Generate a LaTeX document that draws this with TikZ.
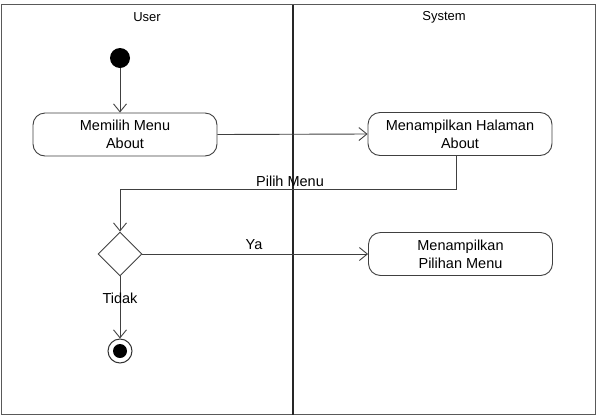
\documentclass[tikz,border=0pt]{standalone}
\usepackage{fontspec}
\setmainfont{Liberation Sans}
\usetikzlibrary{arrows.meta,shapes.geometric}
\begin{document}
\begin{tikzpicture}[x=1pt,y=-1pt,
  act/.style={draw=black!75, fill=white, rounded corners=12pt, minimum width=184pt, minimum height=43pt, align=center, font=\fontsize{14.5}{18}\selectfont, line width=0.9pt, inner sep=0pt},
  flow/.style={draw=black!75, line width=0.9pt, -{Straight Barb[length=8pt,width=13pt]}},
  lbl/.style={font=\fontsize{14.5}{17}\selectfont, inner sep=0pt},
  hdr/.style={font=\fontsize{13}{15}\selectfont, inner sep=0pt}]
\useasboundingbox (0,0) rectangle (602,416);
\draw[black!65, line width=1pt] (1.5,4.5) rectangle (595.5,414.5);
\draw[black!85, line width=2pt] (293,4.5) -- (293,414.5);
\node[hdr] (u) at (147,17) {User};
\node[hdr] (s) at (444,17) {System};
\node[circle, fill=black, minimum size=20pt, inner sep=0pt] (start) at (120,58) {};
\node[act] (a1) at (125,134.5) {Memilih Menu\\About};
\node[act] (a2) at (460,134) {Menampilkan Halaman\\About};
\node[diamond, shape aspect=1, draw=black!75, line width=0.9pt, minimum width=44pt, minimum height=44pt, inner sep=0pt] (d) at (120,254) {};
\node[act] (a3) at (460.5,254) {Menampilkan\\Pilihan Menu};
\node[circle, draw=black!80, line width=1pt, minimum size=24pt, inner sep=0pt] (e) at (120,351) {};
\fill (e.center) circle (7pt);
\draw[flow] (start.south) -- (start.south |- a1.north);
\draw[flow] (a1.east) -- (a2.west);
\draw[flow] ([xshift=-4pt]a2.south) -- ++(0,33.5) -| (d.north);
\draw[flow] (d.east) -- (a3.west);
\draw[flow] (d.south) -- (e.north);
\node[lbl] (l1) at (290,181) {Pilih Menu};
\node[lbl] (l2) at (254,245) {Ya};
\node[lbl] (l3) at (120,298) {Tidak};
\end{tikzpicture}
\end{document}
